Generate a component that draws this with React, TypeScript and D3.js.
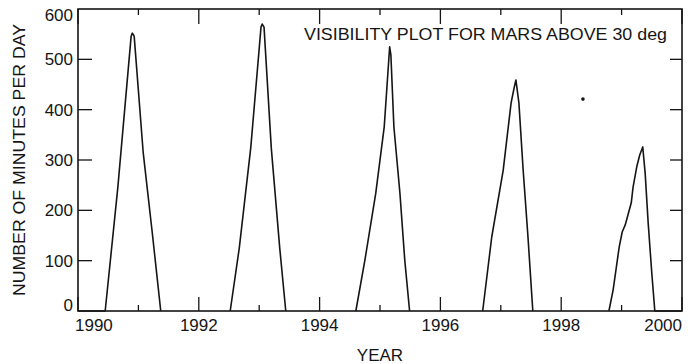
import React, { useEffect } from "react";
import * as d3 from "d3";

// minutes per day that Mars stays above 30 deg
const apparition1: [number, number][] = [
  [1990.0, 0], [1990.45, 0], [1990.66, 246], [1990.88, 546], [1990.9, 552],
  [1990.93, 546], [1991.08, 314], [1991.23, 155], [1991.37, 0],
];
const apparition2: [number, number][] = [
  [1992.52, 0], [1992.67, 125], [1992.86, 324], [1993.03, 564], [1993.05, 570],
  [1993.08, 564], [1993.2, 324], [1993.34, 125], [1993.44, 0],
];
const apparition3: [number, number][] = [
  [1994.6, 0], [1994.75, 101], [1994.93, 234], [1995.07, 366], [1995.16, 525],
  [1995.18, 509], [1995.23, 366], [1995.33, 234], [1995.41, 101], [1995.49, 0],
];
const apparition4: [number, number][] = [
  [1996.7, 0], [1996.85, 147], [1997.04, 280], [1997.17, 413], [1997.22, 443],
  [1997.25, 459], [1997.3, 413], [1997.37, 280], [1997.45, 147], [1997.53, 0],
];
const apparition5: [number, number][] = [
  [1998.79, 0], [1998.86, 42], [1998.96, 127], [1999.01, 157], [1999.06, 171],
  [1999.16, 215], [1999.19, 246], [1999.25, 286], [1999.3, 310], [1999.35, 326],
  [1999.39, 274], [1999.44, 175], [1999.5, 75], [1999.55, 0], [2000.0, 0],
];
const apparitions = [apparition1, apparition2, apparition3, apparition4, apparition5];

// a stray speck in the original print
const strayPoints: [number, number][] = [[1998.36, 421]];

const yearTicks = [1990, 1992, 1994, 1996, 1998, 2000];
const minorYearTicks = [1991, 1993, 1995, 1997, 1999];
const minuteTicks = [0, 100, 200, 300, 400, 500, 600];

const title = "VISIBILITY PLOT FOR MARS ABOVE 30 deg";
const xTitle = "YEAR";
const yTitle = "NUMBER OF MINUTES PER DAY";

const W = 699;
const H = 364;

export default function App() {
  useEffect(() => {
    document.body.style.margin = "0";
  }, []);

  const x = d3.scaleLinear().domain([1990, 2000]).range([78, 682]);
  const y = d3.scaleLinear().domain([0, 600]).range([311, 9]);

  const line = d3
    .line<[number, number]>()
    .x((d) => x(d[0]))
    .y((d) => y(d[1]));

  const font = "'Liberation Sans', Arial, Helvetica, sans-serif";
  const ink = "#151515";

  const [x0, x1] = x.range();
  const [y0, y1] = y.range();

  return (
    <svg width={W} height={H} style={{ display: "block", background: "#fff" }} fontFamily={font}>
      {/* frame */}
      <rect x={x0} y={y1} width={x1 - x0} height={y0 - y1} fill="none" stroke={ink} strokeWidth={1.6} />

      {/* x ticks, bottom and top */}
      {yearTicks.map((t) => (
        <g key={"xt" + t}>
          <line x1={x(t)} x2={x(t)} y1={y0} y2={y0 - 14} stroke={ink} strokeWidth={1.3} />
          <line x1={x(t)} x2={x(t)} y1={y1} y2={y1 + 15} stroke={ink} strokeWidth={1.3} />
        </g>
      ))}
      {minorYearTicks.map((t) => (
        <g key={"xm" + t}>
          <line x1={x(t)} x2={x(t)} y1={y0} y2={y0 - 6} stroke={ink} strokeWidth={1.3} />
          <line x1={x(t)} x2={x(t)} y1={y1} y2={y1 + 6} stroke={ink} strokeWidth={1.3} />
        </g>
      ))}

      {/* y ticks, left and right */}
      {minuteTicks.slice(1, -1).map((t) => (
        <g key={"yt" + t}>
          <line x1={x0} x2={x0 + 14} y1={y(t)} y2={y(t)} stroke={ink} strokeWidth={1.3} />
          <line x1={x1} x2={x1 - 12} y1={y(t)} y2={y(t)} stroke={ink} strokeWidth={1.3} />
        </g>
      ))}

      {/* tick labels */}
      {yearTicks.map((t, i) => (
        <text
          key={"xl" + t}
          x={i === 0 ? x(t) - 3 : x(t)}
          y={331}
          fontSize={17}
          fill={ink}
          textAnchor={i === 0 ? "start" : i === yearTicks.length - 1 ? "end" : "middle"}
        >
          {t}
        </text>
      ))}
      {minuteTicks.map((t, i) => (
        <text
          key={"yl" + t}
          x={73}
          y={i === 0 ? y(t) : i === minuteTicks.length - 1 ? y(t) + 12 : y(t) + 6}
          fontSize={17}
          fill={ink}
          textAnchor="end"
        >
          {t}
        </text>
      ))}

      {/* data */}
      {apparitions.map((a, i) => (
        <path key={"ap" + i} d={line(a) ?? ""} fill="none" stroke={ink} strokeWidth={1.6} strokeLinejoin="round" />
      ))}
      {strayPoints.map((p, i) => (
        <circle key={"sp" + i} cx={x(p[0])} cy={y(p[1])} r={1.8} fill={ink} />
      ))}

      {/* titles */}
      <text x={304} y={40} fontSize={17} fill={ink} textLength={363} lengthAdjust="spacingAndGlyphs">
        {title}
      </text>
      <text x={(x0 + x1) / 2} y={361} fontSize={17} fill={ink} textAnchor="middle">
        {xTitle}
      </text>
      <text
        transform={`translate(25,${(y0 + y1) / 2}) rotate(-90)`}
        fontSize={17}
        fill={ink}
        textAnchor="middle"
        textLength={272}
        lengthAdjust="spacingAndGlyphs"
      >
        {yTitle}
      </text>
    </svg>
  );
}
